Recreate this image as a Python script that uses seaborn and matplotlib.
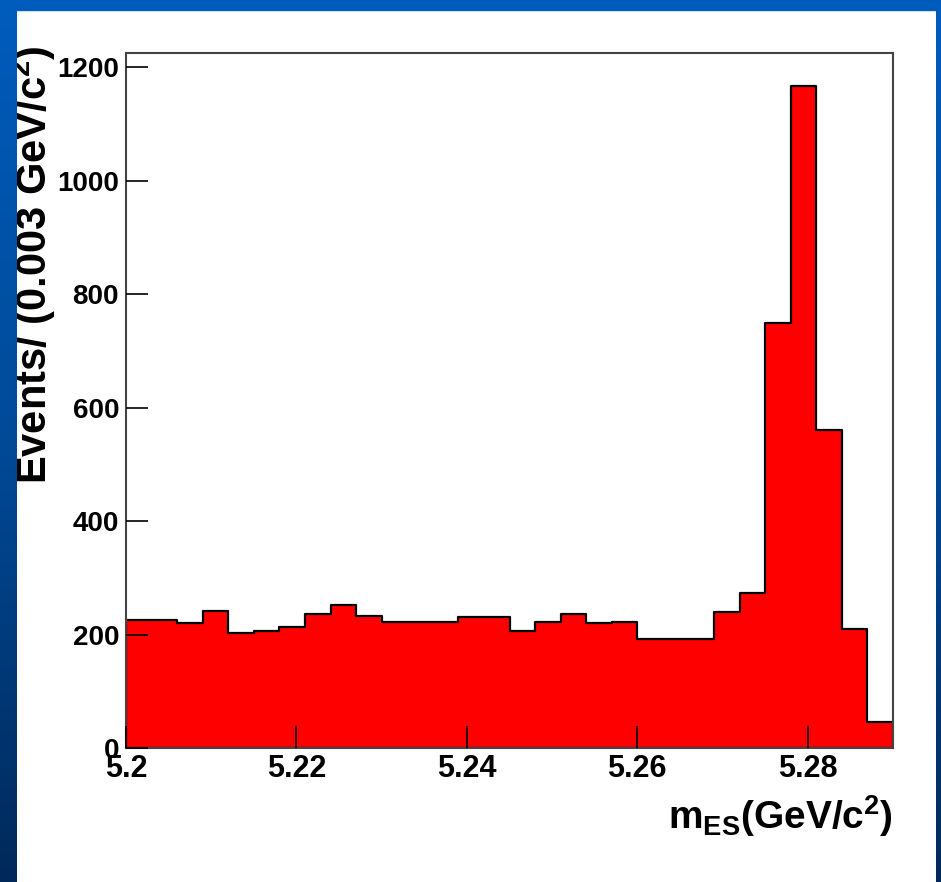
import numpy as np
import pandas as pd
import matplotlib
matplotlib.use("Agg")
import matplotlib.pyplot as plt
import seaborn as sns
from matplotlib.colors import LinearSegmentedColormap
from matplotlib.patches import Rectangle

# m_ES distribution: 30 bins of 0.003 GeV/c^2 between 5.20 and 5.29
m_range = (5.20, 5.29)
n_bins = 30
counts = [225, 225, 220, 242, 203, 206, 213, 236, 253, 233,
          223, 223, 223, 231, 231, 206, 223, 237, 221, 223,
          193, 193, 193, 240, 273, 749, 1167, 560, 209, 46]
x_ticks = [5.20, 5.22, 5.24, 5.26, 5.28]
y_ticks = [0, 200, 400, 600, 800, 1000, 1200]

FIG_W, FIG_H = 941, 882

sns.set_style("white")
plt.rcParams["font.family"] = ["Liberation Sans", "DejaVu Sans"]
plt.rcParams["font.weight"] = "bold"
plt.rcParams["text.color"] = "black"
plt.rcParams["axes.labelcolor"] = "black"
plt.rcParams["xtick.color"] = "black"
plt.rcParams["ytick.color"] = "black"
plt.rcParams["mathtext.fontset"] = "custom"
plt.rcParams["mathtext.rm"] = "Liberation Sans:bold"
plt.rcParams["mathtext.bf"] = "Liberation Sans:bold"
plt.rcParams["mathtext.it"] = "Liberation Sans:bold"
plt.rcParams["mathtext.default"] = "bf"

fig = plt.figure(figsize=(FIG_W / 100, FIG_H / 100), dpi=100)
fig.patch.set_facecolor("white")

# plot frame placed in pixels (left, bottom, right, top)
left, right, top, bottom = 126, 893, 53, 748
ax = fig.add_axes([left / FIG_W, 1 - bottom / FIG_H,
                   (right - left) / FIG_W, (bottom - top) / FIG_H])

width = (m_range[1] - m_range[0]) / n_bins
centers = m_range[0] + width * (np.arange(n_bins) + 0.5)
df = pd.DataFrame({"m_es": centers, "events": counts})
sns.histplot(data=df, x="m_es", weights="events", bins=n_bins, binrange=m_range,
             element="step", fill=True, color="red", alpha=1,
             edgecolor="black", linewidth=1.6, ax=ax)

ax.set_axisbelow(False)
ax.set_xlim(*m_range)
ax.set_ylim(0, 1.05 * max(counts))
ax.set_xticks(x_ticks)
ax.set_yticks(y_ticks)
ax.set_xticklabels([f"{t:g}" for t in x_ticks])
ax.tick_params(direction="in", length=16, width=1.2, color="black",
               labelcolor="black", pad=5,
               left=True, bottom=True, top=False, right=False)
ax.tick_params(axis="x", labelsize=22, pad=4)
ax.tick_params(axis="y", labelsize=20)
for sp in ax.spines.values():
    sp.set_visible(True)
    sp.set_color("#444444")
    sp.set_linewidth(1.5)

ax.set_ylabel("")
ax.set_xlabel("m$_{ES}$(GeV/c$^{2}$)", fontsize=28, fontweight="bold",
              color="black", loc="right", labelpad=7)
fig.text(33 / FIG_W, 1 - 45 / FIG_H, "Events/ (0.003 GeV/c$^{2}$)",
         rotation=90, ha="center", va="top", fontsize=30, fontweight="bold",
         color="black")

# slide border drawn on top
bg = fig.add_axes([0, 0, 1, 1], zorder=10)
bg.patch.set_alpha(0)
bg.axis("off")
slide = LinearSegmentedColormap.from_list("slide", ["#005cbc", "#004a98", "#00295a"])
grad = np.linspace(0, 1, 256).reshape(-1, 1)
bg.imshow(grad, extent=(0, 17, FIG_H, 0), cmap=slide, aspect="auto")
bg.imshow(grad, extent=(936, FIG_W, FIG_H, 0), cmap=slide, aspect="auto")
bg.add_patch(Rectangle((0, 0), FIG_W, 10, color="#005cbc"))
bg.set_xlim(0, FIG_W)
bg.set_ylim(FIG_H, 0)

fig.savefig("out.png", dpi=100)
